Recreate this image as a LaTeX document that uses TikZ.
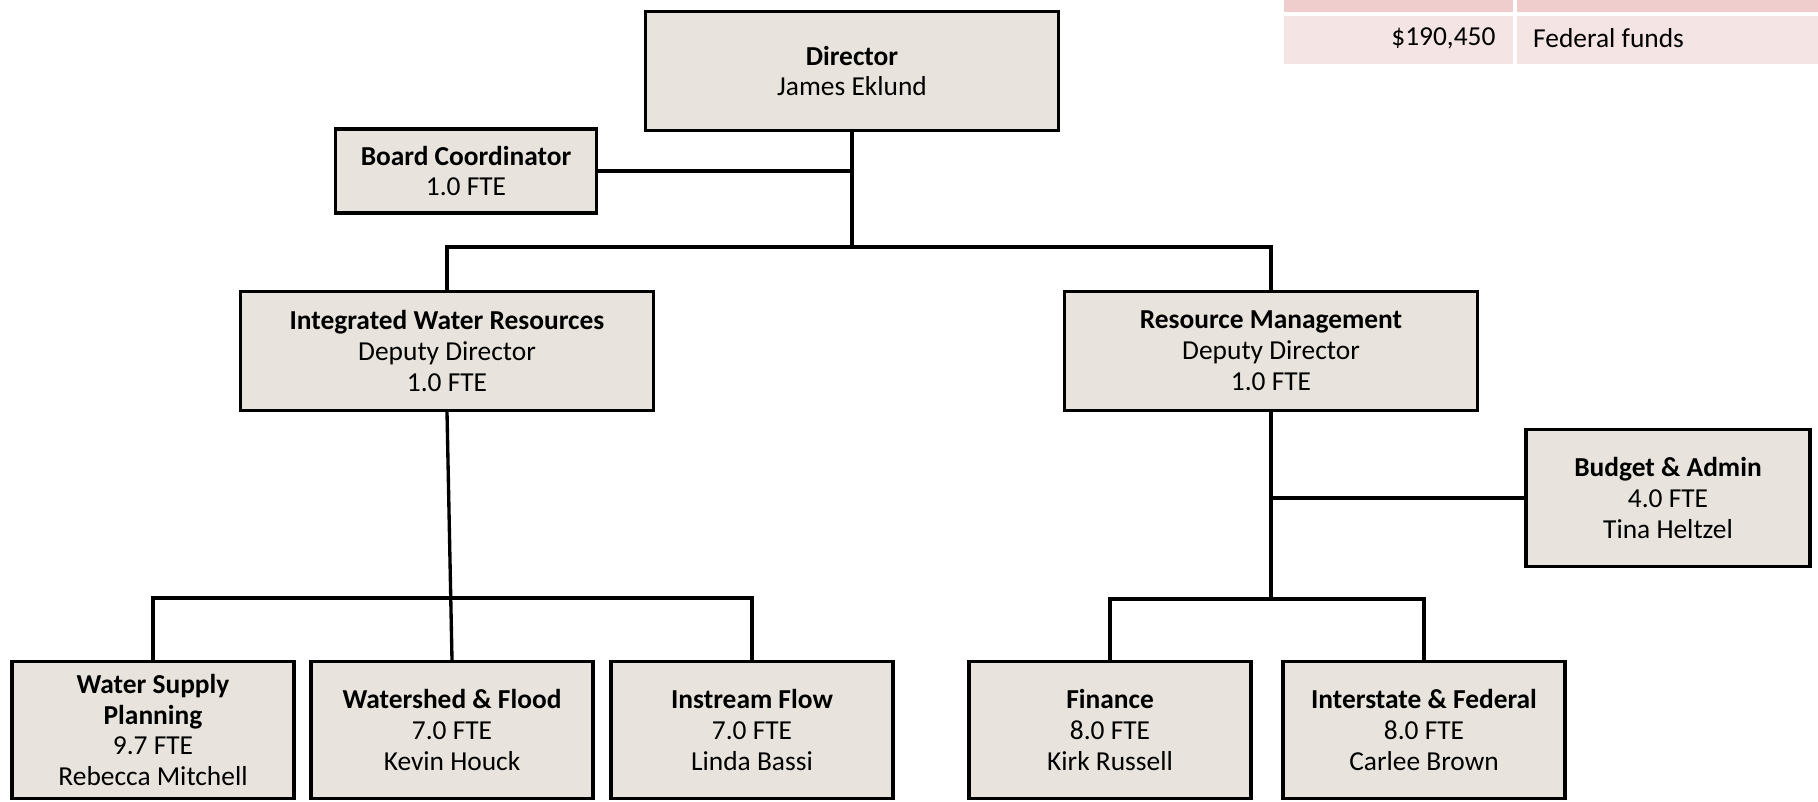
\documentclass[tikz,border=0pt]{standalone}
\usepackage{fontspec}
\setmainfont{Carlito}
\usetikzlibrary{positioning}
\definecolor{boxfill}{HTML}{E8E4DD}
\definecolor{rowdark}{HTML}{EFCDCD}
\definecolor{rowlight}{HTML}{F5E4E4}
\begin{document}
\begin{tikzpicture}[x=0.02cm,y=-0.02cm]

			\tikzstyle{unit}=[fill=boxfill,draw=black,line width=1.8pt,
				align=center,inner sep=0pt,
				font=\fontsize{15.6}{17.6}\selectfont]
			\tikzstyle{big}=[unit,minimum width=8.26cm,minimum height=2.38cm]
			\tikzstyle{small}=[unit,minimum width=5.64cm,minimum height=2.74cm]
			\tikzstyle{link}=[draw=black,line width=1.9pt]
			\tikzstyle{cell}=[inner sep=0pt,anchor=north west]

			\useasboundingbox (0,0) rectangle (1818,801);

			\node[cell,fill=rowdark,minimum width=4.58cm,minimum height=0.24cm]
				(r11) at (1284,0) {};
			\node[cell,fill=rowdark,minimum width=6.02cm,minimum height=0.24cm]
				(r12) at (1517,0) {};
			\node[cell,fill=rowlight,minimum width=4.58cm,minimum height=0.96cm]
				(r21) at (1284,16) {};
			\node[cell,fill=rowlight,minimum width=6.02cm,minimum height=0.96cm]
				(r22) at (1517,16) {};
			\node[anchor=east,font=\fontsize{15.6}{17.6}\selectfont]
				at ([xshift=-0.24cm,yshift=0.04cm]r21.east) {\$190,450};
			\node[anchor=west,font=\fontsize{15.6}{17.6}\selectfont]
				at ([xshift=0.2cm,yshift=0.04cm]r22.west) {Federal funds};

			\node[big]	(dir)	at (852,71)	{\textbf{Director}\\James Eklund};
			\node[unit,minimum width=5.22cm,minimum height=1.68cm]
				(board)	at (466,171)	{\textbf{Board Coordinator}\\1.0 FTE};
			\node[big]	(iwr)	at (447,351)
				{\textbf{Integrated Water Resources}\\Deputy Director\\1.0 FTE};
			\node[big]	(rm)	at (1271,351)
				{\textbf{Resource Management}\\Deputy Director\\1.0 FTE};
			\node[small,minimum width=5.68cm]	(budget)	at (1668,498)
				{\textbf{Budget \& Admin}\\4.0 FTE\\Tina Heltzel};

			\node[small]	(wsp)	at (153,730)
				{\textbf{Water Supply}\\\textbf{Planning}\\9.7 FTE\\Rebecca Mitchell};
			\node[small]	(wf)	at (452,730)
				{\textbf{Watershed \& Flood}\\7.0 FTE\\Kevin Houck};
			\node[small]	(inf)	at (752,730)
				{\textbf{Instream Flow}\\7.0 FTE\\Linda Bassi};
			\node[small]	(fin)	at (1110,730)
				{\textbf{Finance}\\8.0 FTE\\Kirk Russell};
			\node[small]	(ifd)	at (1424,730)
				{\textbf{Interstate \& Federal}\\8.0 FTE\\Carlee Brown};

			\coordinate (hub) at (dir.south |- 0,247);
			\coordinate (ibus) at (wf.north |- 0,598);
			\coordinate (rbus) at (rm.south |- 0,599);

			\draw[link] (dir.south) -- (hub);
			\draw[link] (board.east) -- (board.east -| dir.south);
			\draw[link] (iwr.north) |- (hub) -| (rm.north);
			\draw[link] (iwr.south) -- (wf.north);
			\draw[link] (wsp.north) |- (ibus) -| (inf.north);
			\draw[link] (rm.south) -- (rbus);
			\draw[link] (budget.west) -- (budget.west -| rm.south);
			\draw[link] (fin.north) |- (rbus) -| (ifd.north);

			\end{tikzpicture}
\end{document}
